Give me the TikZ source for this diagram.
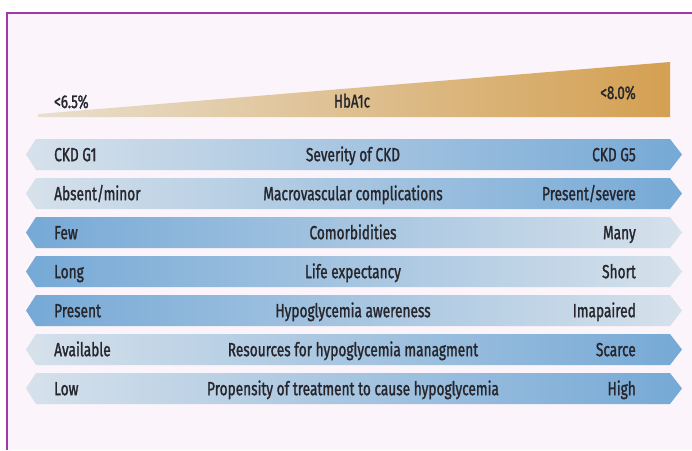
\documentclass[tikz,border=0pt]{standalone}
\usepackage{fontspec}
\setmainfont{Fira Sans}[FakeStretch=0.72,FakeBold=1.3]
\usetikzlibrary{calc}
\definecolor{framepurple}{RGB}{165,55,170}
\definecolor{bgpink}{RGB}{251,244,251}
\definecolor{lightblue}{RGB}{214,225,235}
\definecolor{darkblue}{RGB}{118,169,214}
\definecolor{lightgold}{RGB}{232,223,206}
\definecolor{darkgold}{RGB}{212,160,82}
\definecolor{textgray}{RGB}{38,38,44}

\begin{document}
\begin{tikzpicture}[x=1pt,y=-1pt,text=textgray,font=\fontsize{19}{22}\selectfont]
\tikzstyle{side text}=[inner sep=0]
\tikzstyle{scale text}=[inner sep=0,font=\fontsize{18.5}{22}\selectfont]

\useasboundingbox (0,0) rectangle (692,450);
\fill[white] (0,0) rectangle (692,450);
\fill[bgpink] (7,13) rectangle (692,450);
\draw[framepurple,line width=1.5] (7,450) -- (7,13) -- (692,13);

% HbA1c wedge
\shade[left color=lightgold,right color=darkgold]
  (38,114) -- (670,62) -- (670,117) -- (38,117) -- cycle;
\node(low)[scale text,anchor=base west] at (54,108) {<6.5\%};
\node(hba)[scale text,anchor=base] at (352,107.5) {HbA1c};
\node(high)[scale text,anchor=base east] at (636,99) {<8.0\%};

% arrow bars
\foreach \i/\lt/\mt/\rt/\lc/\rc in {
  0/CKD G1/Severity of CKD/CKD G5/lightblue/darkblue,
  1/{Absent/minor}/Macrovascular complications/{Present/severe}/lightblue/darkblue,
  2/Few/Comorbidities/Many/darkblue/lightblue,
  3/Long/Life expectancy/Short/darkblue/lightblue,
  4/Present/Hypoglycemia awereness/Imapaired/darkblue/lightblue,
  5/Available/Resources for hypoglycemia managment/Scarce/lightblue/darkblue,
  6/Low/Propensity of treatment to cause hypoglycemia/High/lightblue/darkblue}{
  \pgfmathsetmacro{\y}{154.5+39*\i}
  \shade[left color=\lc,right color=\rc]
    (26,\y) -- (36,\y-15.5) -- (670,\y-15.5) -- (682,\y)
    -- (670,\y+15.5) -- (36,\y+15.5) -- cycle;
  \node(left\i)[side text,anchor=base west] at (54,\y+6.7) {\lt};
  \node(mid\i)[side text,anchor=base] at (353,\y+6.7) {\mt};
  \node(right\i)[side text,anchor=base east] at (636,\y+6.7) {\rt};
}
\end{tikzpicture}
\end{document}
